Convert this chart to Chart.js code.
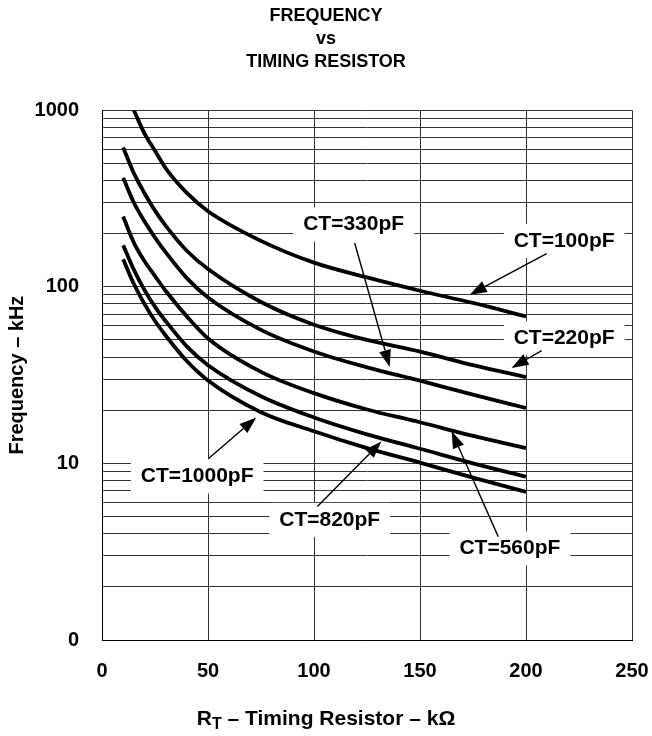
<!DOCTYPE html>
<html>
<head>
<meta charset="utf-8">
<script src="https://cdn.jsdelivr.net/npm/chart.js@4.4.1/dist/chart.umd.min.js"></script>
<style>
  html, body { margin: 0; padding: 0; background: #fff; }
</style>
</head>
<body>
<canvas id="freqChart" width="652" height="736"></canvas>
<script>
// timing resistor (kOhm) and frequency (kHz) per timing capacitor
const rt = [10, 15, 20, 25, 30, 40, 50, 75, 100, 125, 150, 175, 200];
const ct100  = [null, 1000, 740, 590, 470, 340, 268, 182, 137, 113, 95, 81, 68];
const ct220  = [615, 440, 340, 270, 222, 160, 126, 82, 61, 50, 43, 36, 30.8];
const ct330  = [415, 300, 235, 190, 157, 112, 87, 57, 43, 35, 29.4, 24.5, 20.6];
const ct560  = [250, 178, 140, 115, 95, 68, 51, 33, 25, 20.2, 17.1, 14.3, 12.2];
const ct820  = [172, 125, 96, 77, 64, 46, 36, 24, 18.2, 14.6, 12.1, 10, 8.4];
const ct1000 = [143, 104, 80, 64, 53, 38, 29.5, 19.5, 15.2, 12.2, 10.1, 8.3, 6.9];

const xTicks = [0, 50, 100, 150, 200, 250];
const yGrid = [1, 2, 3, 4, 5, 6, 7, 8, 9, 10, 20, 30, 40, 50, 60, 70, 80, 90,
               100, 200, 300, 400, 500, 600, 700, 800, 900, 1000];
const yLabels = { 1: '0', 10: '10', 100: '100', 1000: '1000' };

const FONT = "'Liberation Sans', Arial, Helvetica, sans-serif";

// curve labels: text spot and arrow (from -> to), in data units
const notes = [
  { text: 'CT=100pF',  at: [218, 182],   from: [209.7, 154], to: [173.5, 90.3] },
  { text: 'CT=220pF',  at: [218, 51.2],  from: [207.4, 43.5], to: [193.2, 34.7] },
  { text: 'CT=330pF',  at: [118.7, 225], from: [119.2, 177], to: [135.7, 35.2] },
  { text: 'CT=560pF',  at: [192.4, 3.3], from: [186.9, 3.85], to: [164.9, 15.2] },
  { text: 'CT=820pF',  at: [107.4, 4.79], from: [101.6, 5.7], to: [131.8, 13.3] },
  { text: 'CT=1000pF', at: [44.9, 8.45], from: [50.4, 10.7], to: [72.8, 18.2] }
];

function series(vals) {
  return {
    data: rt.map((x, i) => ({ x: x, y: vals[i] })),
    borderColor: '#000',
    borderWidth: 3.8,
    pointRadius: 0,
    fill: false,
    cubicInterpolationMode: 'monotone',
    spanGaps: false
  };
}

const noteBoxes = {
  id: 'noteBoxes',
  beforeDatasetsDraw(chart) {
    const c = chart.ctx, xs = chart.scales.x, ys = chart.scales.y;
    c.save();
    c.font = 'bold 21px ' + FONT;
    c.fillStyle = '#fff';
    notes.forEach(n => {
      const px = xs.getPixelForValue(n.at[0]);
      const py = ys.getPixelForValue(n.at[1]);
      const w = c.measureText(n.text).width + 20;
      c.fillRect(px - w / 2, py - 17, w, 34);
    });
    c.restore();
  },
  afterDatasetsDraw(chart) {
    const c = chart.ctx, xs = chart.scales.x, ys = chart.scales.y;
    c.save();
    c.font = 'bold 21px ' + FONT;
    c.fillStyle = '#000';
    c.strokeStyle = '#000';
    c.textAlign = 'center';
    c.textBaseline = 'middle';
    notes.forEach(n => {
      c.fillText(n.text, xs.getPixelForValue(n.at[0]), ys.getPixelForValue(n.at[1]));
      const x1 = xs.getPixelForValue(n.from[0]), y1 = ys.getPixelForValue(n.from[1]);
      const x2 = xs.getPixelForValue(n.to[0]), y2 = ys.getPixelForValue(n.to[1]);
      const a = Math.atan2(y2 - y1, x2 - x1);
      const len = 17, hw = 6;
      const bx = x2 - len * Math.cos(a), by = y2 - len * Math.sin(a);
      c.lineWidth = 1.4;
      c.beginPath();
      c.moveTo(x1, y1);
      c.lineTo(bx, by);
      c.stroke();
      c.beginPath();
      c.moveTo(x2, y2);
      c.lineTo(bx + hw * Math.sin(a), by - hw * Math.cos(a));
      c.lineTo(bx - hw * Math.sin(a), by + hw * Math.cos(a));
      c.closePath();
      c.fill();
    });
    c.restore();
  },
  afterDraw(chart) {
    // x axis title with subscript T
    const c = chart.ctx;
    c.save();
    c.fillStyle = '#000';
    c.textBaseline = 'alphabetic';
    const big = 'bold 21px ' + FONT, small = 'bold 16px ' + FONT;
    const rest = ' \u2013 Timing Resistor \u2013 k\u03A9';
    c.font = big;
    const wR = c.measureText('R').width, wRest = c.measureText(rest).width;
    c.font = small;
    const wT = c.measureText('T').width;
    let x = chart.width / 2 - (wR + wT + wRest) / 2;
    const y = 725;
    c.font = big; c.fillText('R', x, y); x += wR;
    c.font = small; c.fillText('T', x, y + 4); x += wT;
    c.font = big; c.fillText(rest, x, y);
    c.restore();
  }
};

const ctx = document.getElementById('freqChart').getContext('2d');
const freqChart = new Chart(ctx, {
  type: 'line',
  data: {
    datasets: [series(ct100), series(ct220), series(ct330), series(ct560), series(ct820), series(ct1000)]
  },
  options: {
    responsive: false,
    animation: false,
    layout: { padding: { left: 0, right: 0, top: 0, bottom: 0 } },
    plugins: {
      legend: { display: false },
      tooltip: { enabled: false },
      title: {
        display: true,
        text: ['FREQUENCY', 'vs', 'TIMING RESISTOR'],
        color: '#000',
        font: { family: FONT, size: 18, weight: 'bold', lineHeight: 1.3 },
        padding: { top: 4, bottom: 36 }
      }
    },
    scales: {
      x: {
        type: 'linear',
        min: 0,
        max: 250,
        afterBuildTicks: s => { s.ticks = xTicks.map(v => ({ value: v })); },
        afterFit: s => { s.height = 96; s.paddingLeft = 0; s.paddingRight = 20; },
        ticks: {
          color: '#000',
          padding: 19,
          font: { family: FONT, size: 20, weight: 'bold' }
        },
        grid: { color: '#333', lineWidth: 1, drawTicks: false },
        border: { color: '#000', width: 1 }
      },
      y: {
        type: 'logarithmic',
        min: 1,
        max: 1000,
        afterBuildTicks: s => { s.ticks = yGrid.map(v => ({ value: v })); },
        afterFit: s => { s.width = 102; },
        ticks: {
          color: '#000',
          padding: 23,
          autoSkip: false,
          font: { family: FONT, size: 20, weight: 'bold' },
          callback: v => yLabels[v] || ''
        },
        title: {
          display: true,
          text: 'Frequency \u2013 kHz',
          color: '#000',
          font: { family: FONT, size: 20, weight: 'bold' },
          padding: { top: 5, bottom: 0 }
        },
        grid: { color: '#333', lineWidth: 1, drawTicks: false },
        border: { color: '#000', width: 1 }
      }
    }
  },
  plugins: [noteBoxes]
});
</script>
</body>
</html>
